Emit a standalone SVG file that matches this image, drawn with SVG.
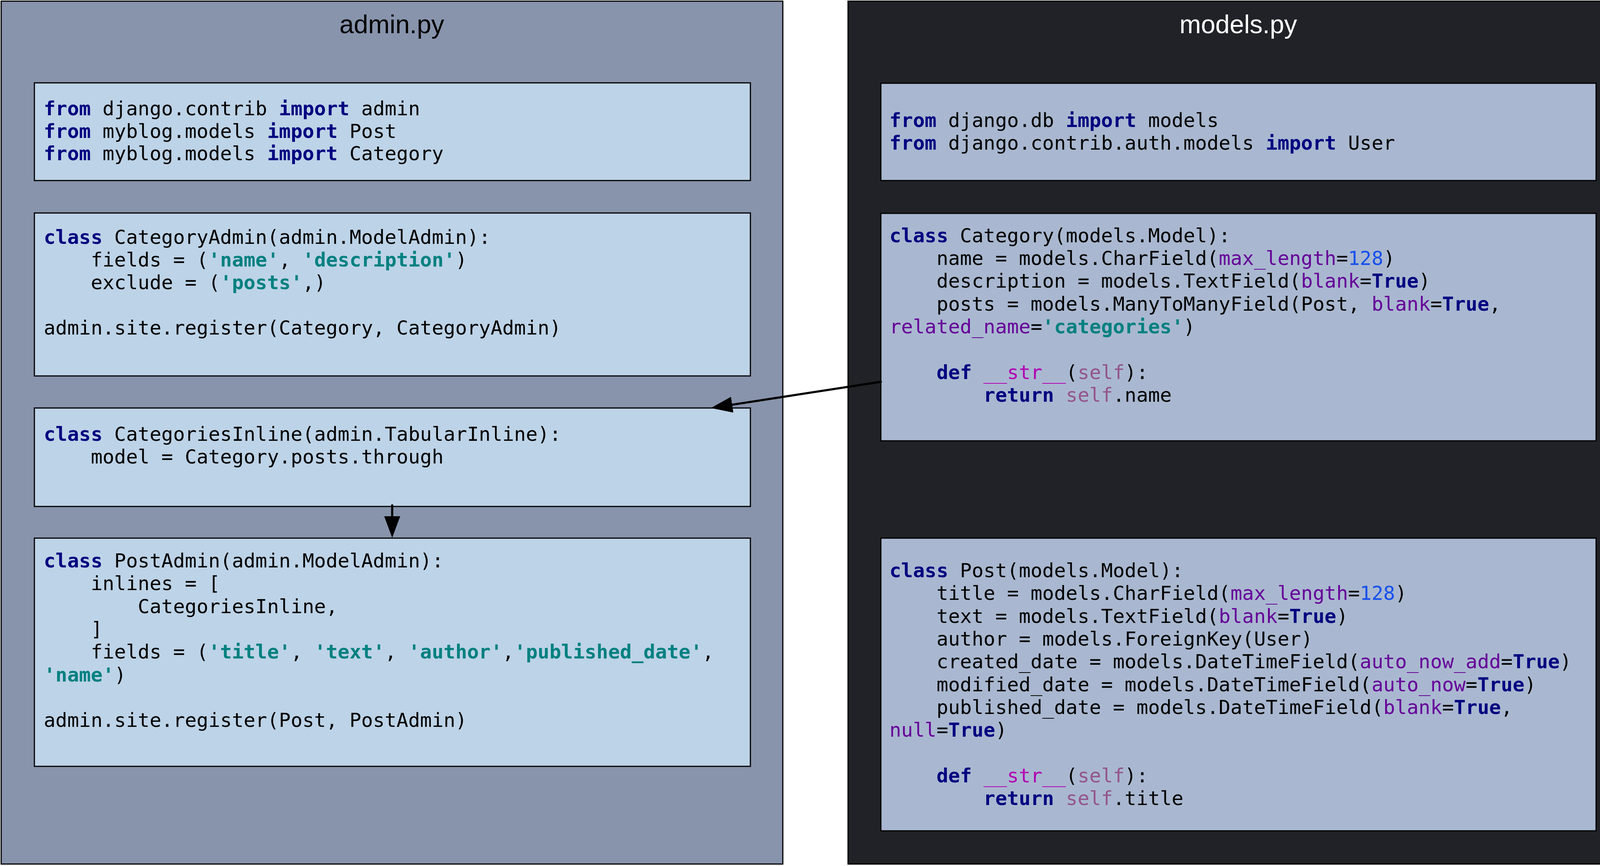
<svg xmlns="http://www.w3.org/2000/svg" width="4174" height="2216" viewBox="0 0 4174 2216" xml:space="preserve">
<defs>
<style>
.code{font-family:"DejaVu Sans Mono","Liberation Mono",monospace;font-size:50px;fill:#000;white-space:pre}
.k{fill:#000080;font-weight:bold}
.s{fill:#008080;font-weight:bold}
.p{fill:#660099}
.n{fill:#1750EB}
.sf{fill:#94558D}
.m{fill:#B200B2}
.title{font-family:"Liberation Sans",Arial,sans-serif;font-size:66px;text-anchor:middle}
.box{stroke:#000;stroke-width:3}
.conn{stroke:#000;stroke-width:5.5;fill:none;stroke-linecap:round}
</style>
<marker id="arrow" markerUnits="userSpaceOnUse" markerWidth="56" markerHeight="42" refX="0" refY="20.5" orient="auto" viewBox="0 0 56 42">
<path d="M0,0 L55,20.5 L0,41 z" fill="#000"/>
</marker>
</defs>
<rect width="4174" height="2216" fill="#fff"/>

<g id="admin-py">
<rect class="box" x="3" y="3" width="2001" height="2208" fill="#8894AC"/>
<text class="title" x="1003" y="85" fill="#000">admin.py</text>
</g>

<g id="models-py">
<rect class="box" x="2171" y="3" width="1998" height="2208" fill="#212227"/>
<text class="title" x="3170" y="85" fill="#fff">models.py</text>
</g>

<g id="admin-imports">
<rect class="box" x="88" y="212" width="1833" height="250" fill="#BDD3E7"/>
<text class="code" x="112" y="295"><tspan class="k">from</tspan> django.contrib <tspan class="k">import</tspan> admin</text>
<text class="code" x="112" y="352.5"><tspan class="k">from</tspan> myblog.models <tspan class="k">import</tspan> Post</text>
<text class="code" x="112" y="410"><tspan class="k">from</tspan> myblog.models <tspan class="k">import</tspan> Category</text>
</g>

<g id="category-admin">
<rect class="box" x="88" y="545" width="1833" height="417" fill="#BDD3E7"/>
<text class="code" x="112" y="624"><tspan class="k">class</tspan> CategoryAdmin(admin.ModelAdmin):</text>
<text class="code" x="112" y="682">    fields = (<tspan class="s">'name'</tspan>, <tspan class="s">'description'</tspan>)</text>
<text class="code" x="112" y="740">    exclude = (<tspan class="s">'posts'</tspan>,)</text>
<text class="code" x="112" y="856">admin.site.register(Category, CategoryAdmin)</text>
</g>

<g id="categories-inline">
<rect class="box" x="88" y="1044" width="1833" height="252" fill="#BDD3E7"/>
<text class="code" x="112" y="1128"><tspan class="k">class</tspan> CategoriesInline(admin.TabularInline):</text>
<text class="code" x="112" y="1186">    model = Category.posts.through</text>
</g>

<g id="post-admin">
<rect class="box" x="88" y="1377" width="1833" height="584" fill="#BDD3E7"/>
<text class="code" x="112" y="1452"><tspan class="k">class</tspan> PostAdmin(admin.ModelAdmin):</text>
<text class="code" x="112" y="1510">    inlines = [</text>
<text class="code" x="112" y="1569">        CategoriesInline,</text>
<text class="code" x="112" y="1627">    ]</text>
<text class="code" x="112" y="1685">    fields = (<tspan class="s">'title'</tspan>, <tspan class="s">'text'</tspan>, <tspan class="s">'author'</tspan>,<tspan class="s">'published_date'</tspan>,</text>
<text class="code" x="112" y="1744"><tspan class="s">'name'</tspan>)</text>
<text class="code" x="112" y="1860">admin.site.register(Post, PostAdmin)</text>
</g>

<g id="models-imports">
<rect class="box" x="2255" y="213" width="1831" height="249" fill="#A9B8D0"/>
<text class="code" x="2277" y="325"><tspan class="k">from</tspan> django.db <tspan class="k">import</tspan> models</text>
<text class="code" x="2277" y="383"><tspan class="k">from</tspan> django.contrib.auth.models <tspan class="k">import</tspan> User</text>
</g>

<g id="category-model">
<rect class="box" x="2255" y="546" width="1831" height="582" fill="#A9B8D0"/>
<text class="code" x="2277" y="620"><tspan class="k">class</tspan> Category(models.Model):</text>
<text class="code" x="2277" y="678">    name = models.CharField(<tspan class="p">max_length</tspan>=<tspan class="n">128</tspan>)</text>
<text class="code" x="2277" y="736">    description = models.TextField(<tspan class="p">blank</tspan>=<tspan class="k">True</tspan>)</text>
<text class="code" x="2277" y="795">    posts = models.ManyToManyField(Post, <tspan class="p">blank</tspan>=<tspan class="k">True</tspan>,</text>
<text class="code" x="2277" y="853"><tspan class="p">related_name</tspan>=<tspan class="s">'categories'</tspan>)</text>
<text class="code" x="2277" y="970">    <tspan class="k">def</tspan> <tspan class="m">__str__</tspan>(<tspan class="sf">self</tspan>):</text>
<text class="code" x="2277" y="1028">        <tspan class="k">return</tspan> <tspan class="sf">self</tspan>.name</text>
</g>

<g id="post-model">
<rect class="box" x="2255" y="1377" width="1831" height="749" fill="#A9B8D0"/>
<text class="code" x="2277" y="1477"><tspan class="k">class</tspan> Post(models.Model):</text>
<text class="code" x="2277" y="1535">    title = models.CharField(<tspan class="p">max_length</tspan>=<tspan class="n">128</tspan>)</text>
<text class="code" x="2277" y="1594">    text = models.TextField(<tspan class="p">blank</tspan>=<tspan class="k">True</tspan>)</text>
<text class="code" x="2277" y="1652">    author = models.ForeignKey(User)</text>
<text class="code" x="2277" y="1710">    created_date = models.DateTimeField(<tspan class="p">auto_now_add</tspan>=<tspan class="k">True</tspan>)</text>
<text class="code" x="2277" y="1769">    modified_date = models.DateTimeField(<tspan class="p">auto_now</tspan>=<tspan class="k">True</tspan>)</text>
<text class="code" x="2277" y="1827">    published_date = models.DateTimeField(<tspan class="p">blank</tspan>=<tspan class="k">True</tspan>,</text>
<text class="code" x="2277" y="1885"><tspan class="p">null</tspan>=<tspan class="k">True</tspan>)</text>
<text class="code" x="2277" y="2002">    <tspan class="k">def</tspan> <tspan class="m">__str__</tspan>(<tspan class="sf">self</tspan>):</text>
<text class="code" x="2277" y="2060">        <tspan class="k">return</tspan> <tspan class="sf">self</tspan>.title</text>
</g>

<g id="connectors">
<line class="conn" x1="2255" y1="977" x2="1874.4" y2="1035.6" marker-end="url(#arrow)"/>
<line class="conn" x1="1004" y1="1293" x2="1004" y2="1321" marker-end="url(#arrow)"/>
</g>
</svg>
